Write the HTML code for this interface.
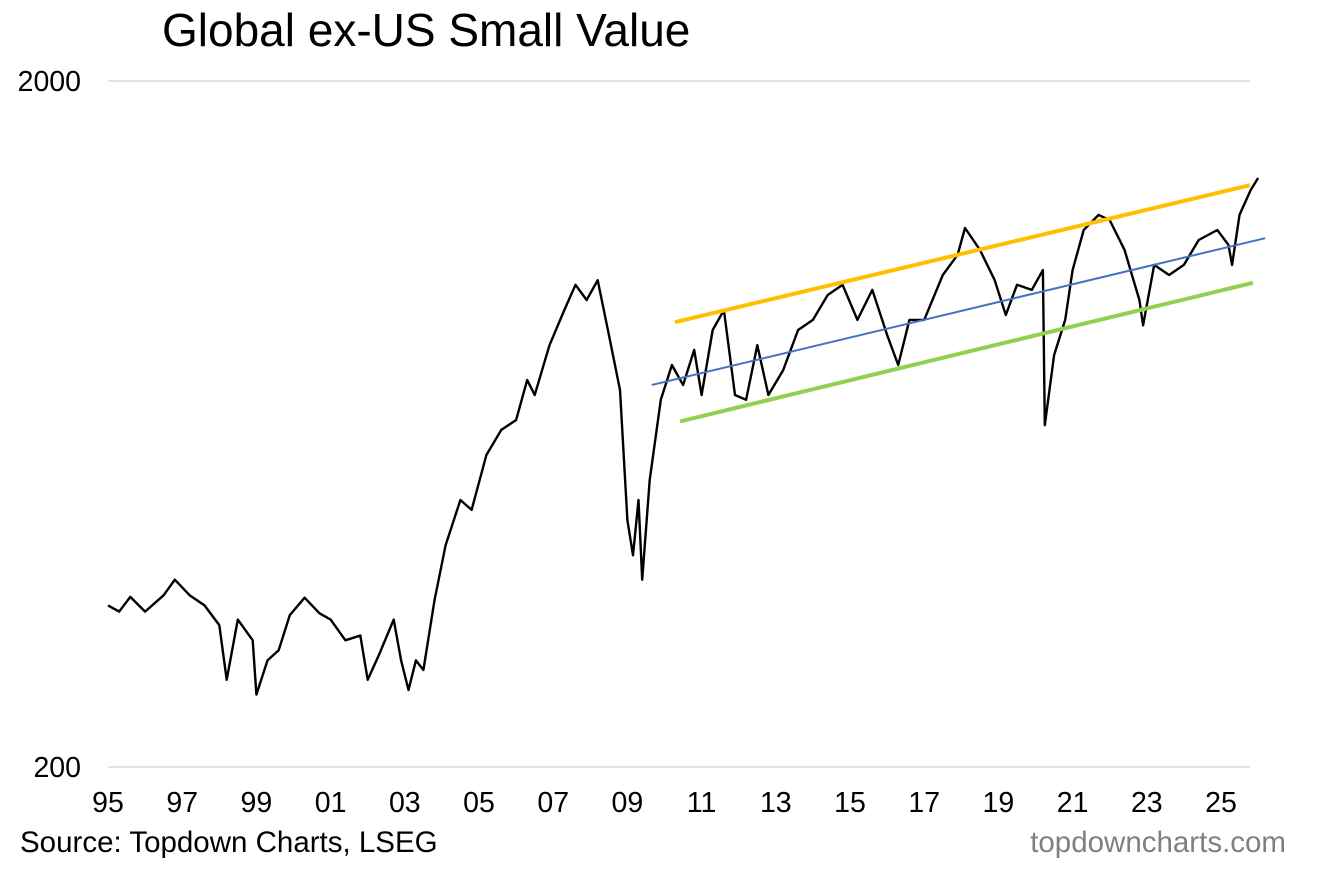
<!DOCTYPE html>
<html><head><meta charset="utf-8"><style>
body{margin:0;background:#fff;width:1320px;height:865px;overflow:hidden;font-family:"Liberation Sans",Arial,sans-serif}
</style></head><body>
<svg id="chart" width="1320" height="865" xmlns="http://www.w3.org/2000/svg">
<text x="162" y="46" font-size="46" fill="#000">Global ex-US Small Value</text>
<g id="grid"></g><g id="axes"></g><g id="series"></g>
<text x="20" y="852" font-size="29.5" fill="#000">Source: Topdown Charts, LSEG</text>
<text x="1286" y="852" font-size="29.5" fill="#808080" text-anchor="end">topdowncharts.com</text>
</svg>
<script>
const years=[1995,1995.3,1995.6,1996,1996.5,1996.8,1997.2,1997.6,1998,1998.2,1998.5,1998.9,1999,1999.3,1999.6,1999.9,2000.3,2000.7,2001,2001.4,2001.8,2002,2002.3,2002.7,2002.9,2003.1,2003.3,2003.5,2003.8,2004.1,2004.5,2004.8,2005.2,2005.6,2006,2006.3,2006.5,2006.9,2007.3,2007.6,2007.9,2008.2,2008.5,2008.8,2009,2009.15,2009.3,2009.4,2009.6,2009.9,2010.2,2010.5,2010.8,2011,2011.3,2011.6,2011.9,2012.2,2012.5,2012.8,2013.2,2013.6,2014,2014.4,2014.8,2015.2,2015.6,2016,2016.3,2016.6,2017,2017.5,2017.9,2018.1,2018.5,2018.9,2019.2,2019.5,2019.9,2020.2,2020.25,2020.5,2020.8,2021,2021.3,2021.7,2022,2022.4,2022.8,2022.9,2023.2,2023.6,2024,2024.4,2024.9,2025.2,2025.3,2025.5,2025.8,2026];
const values=[344,337,354,337,356,375,356,344,322,268,328,306,255,286,296,333,353,335,328,306,311,268,291,328,286,259,286,277,350,421,490,474,570,620,641,733,697,824,927,1009,959,1025,853,709,458,407,490,375,524,686,771,721,811,697,867,927,697,686,824,697,758,867,897,975,1009,897,992,853,771,897,897,1043,1116,1221,1135,1025,912,1009,992,1060,630,797,897,1060,1213,1276,1254,1135,959,881,1079,1043,1079,1173,1213,1154,1079,1276,1387,1444];
const trendNames=["upper-trend","mid-trend","lower-trend"];
const trendYears=[[2010.28,2025.78],[2009.66,2026.19],[2010.42,2025.86]];
const trendValues=[[890,1410],[721,1180],[638,1016]];
const trendColors=["#FFC000","#4472C4","#92D050"];
const trendWidths=[4,2,4];
const xTicks=[1995,1997,1999,2001,2003,2005,2007,2009,2011,2013,2015,2017,2019,2021,2023,2025];
const yTicks=[200,2000];
const NS="http://www.w3.org/2000/svg";
const X=y=>108+(y-1995)*37.1;
const Y=v=>767-686*Math.log10(v/200);
function mk(t,a,p){const e=document.createElementNS(NS,t);for(const k in a)e.setAttribute(k,a[k]);p.appendChild(e);return e;}
const grid=document.getElementById('grid'),axes=document.getElementById('axes'),ser=document.getElementById('series');
yTicks.forEach(v=>{
 const l=mk('line',{x1:108,x2:1250,y1:Y(v),y2:Y(v),stroke:'#d9d9d9','stroke-width':1.5},grid);
 
 
 const t=mk('text',{x:81,y:Y(v)+10,'font-size':28.5,'text-anchor':'end'},axes);t.textContent=v;
 
 
});
xTicks.forEach(y=>{
 const t=mk('text',{x:X(y),y:812,'font-size':28.5,'text-anchor':'middle'},axes);t.textContent=String(y%100).padStart(2,'0');
 
 
});
const p=mk('polyline',{points:years.map((y,i)=>X(y).toFixed(1)+','+Y(values[i]).toFixed(1)).join(' '),fill:'none',stroke:'#000','stroke-width':2.4,'stroke-linejoin':'round'},ser);


trendNames.forEach((n,i)=>{
 const l=mk('line',{x1:X(trendYears[i][0]),y1:Y(trendValues[i][0]),x2:X(trendYears[i][1]),y2:Y(trendValues[i][1]),stroke:trendColors[i],'stroke-width':trendWidths[i]},ser);
 
 
});
</script>
</body></html>
